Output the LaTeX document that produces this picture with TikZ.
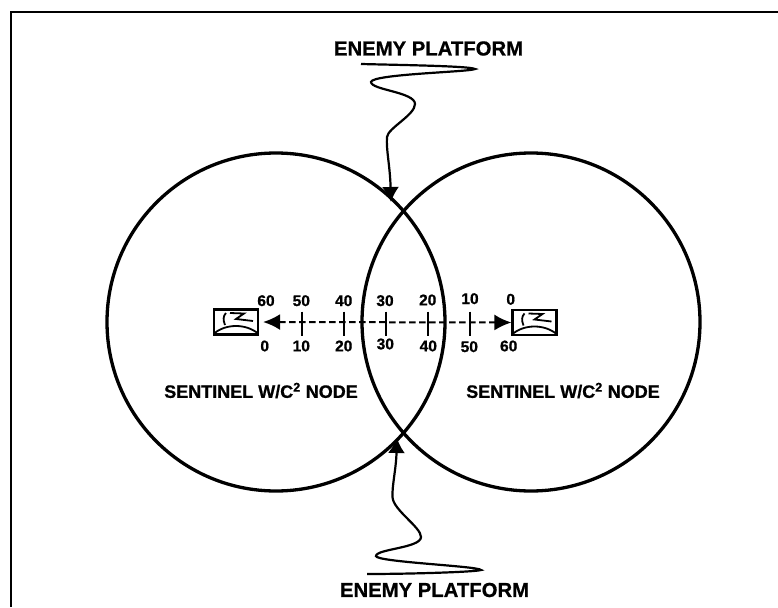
\documentclass[tikz,border=0pt]{standalone}
\usepackage{fontspec}
\setmainfont[BoldFeatures={FakeBold=0.8}]{Liberation Sans}
\usetikzlibrary{arrows.meta}

\tikzset{
  caption/.style={font=\bfseries\fontsize{18}{18}\selectfont, inner sep=0pt},
  platform/.style={font=\bfseries\fontsize{20.3}{20}\selectfont, inner sep=0pt},
  scalenum/.style={font=\bfseries\fontsize{15.5}{16}\selectfont, inner sep=0pt},
  radar/.style={draw, line width=2.2pt, minimum width=44pt, minimum height=25pt, inner sep=0pt},
  track/.style={line width=2.2pt, -{Latex[length=15pt,width=17pt]}}
}

\begin{document}
\begin{tikzpicture}[x=1pt, y=-1pt]

\useasboundingbox (0,0) rectangle (778,607);

\coordinate (LeftC) at (276,322);
\coordinate (RightC) at (531,322);

% Frame
\draw[line width=2.4pt] (11,607) -- (11,12) -- (778,12);

% Sensor coverage
\draw[line width=3.3pt] (LeftC) circle (169pt);
\draw[line width=3.3pt] (RightC) circle (169pt);

% Sensors
\node[radar] (LeftS) at (236,322) {};
\node[radar] (RightS) at (534.5,322.5) {};
\foreach \sensor in {LeftS, RightS} {
  \begin{scope}[shift={(\sensor)}, line width=1.8pt]
    \draw (-22,11.5) .. controls (-10,1.5) and (10,1.5) .. (22,11.5);
    \draw (-10,-9) .. controls (-13,-6) and (-13,-2) .. (-11,3);
    \draw (-6,-9) -- (8,-8.5) -- (0,-3) -- (17,-1);
  \end{scope}
}

% Range scale
\draw[line width=2pt, dash pattern=on 6.5pt off 3.5pt, {Latex[length=17pt,width=16pt]}-{Latex[length=17pt,width=16pt]}] (LeftS.east) ++(4,0) coordinate (LeftT) -- (RightS.west) coordinate (RightT);
\foreach \x in {302,344,386,428,470} {
  \draw[line width=1.8pt] (\x,311.5) -- (\x,336);
}

% Labels above the scale
\foreach \x/\y/\t in {266/300.7/60, 301.3/300.7/50, 343.7/300.7/40, 385/300.7/30, 427.7/300/20, 470/298.7/10, 510.7/299.3/0} {
  \node[scalenum] (up\t) at (\x,\y) {\t};
}
% Labels below the scale
\foreach \x/\y/\t in {264.7/346/0, 301.3/346/10, 343.7/346/20, 385.3/344/30, 428.3/346/40, 469.3/346.7/50, 508.7/346/60} {
  \node[scalenum] (down\t) at (\x,\y) {\t};
}

\node[caption] (LeftN) at (261,390.5) {SENTINEL W/C\textsuperscript{2} NODE};
\node[caption] (RightN) at (563,390.5) {SENTINEL W/C\textsuperscript{2} NODE};

% Enemy tracks
\node[platform] (TopE) at (428.5,48.5) {ENEMY PLATFORM};
\node[platform] (BotE) at (434.5,590) {ENEMY PLATFORM};

\draw[track] (361,64) .. controls (400,65) and (470,66) .. (475,69)
  .. controls (470,72) and (372,74) .. (371,82)
  .. controls (371,90) and (415,92) .. (415,104)
  .. controls (415,115) and (388,128) .. (387,137)
  .. controls (386,150) and (390,165) .. (391,202);
\draw[track] (367,574) .. controls (410,574) and (475,572) .. (481,570)
  .. controls (478,566) and (376,562) .. (376,556)
  .. controls (376,549) and (421,548) .. (421,537)
  .. controls (421,527) and (393,510) .. (392.5,497)
  .. controls (392,485) and (396,470) .. (397,438);

\end{tikzpicture}
\end{document}
